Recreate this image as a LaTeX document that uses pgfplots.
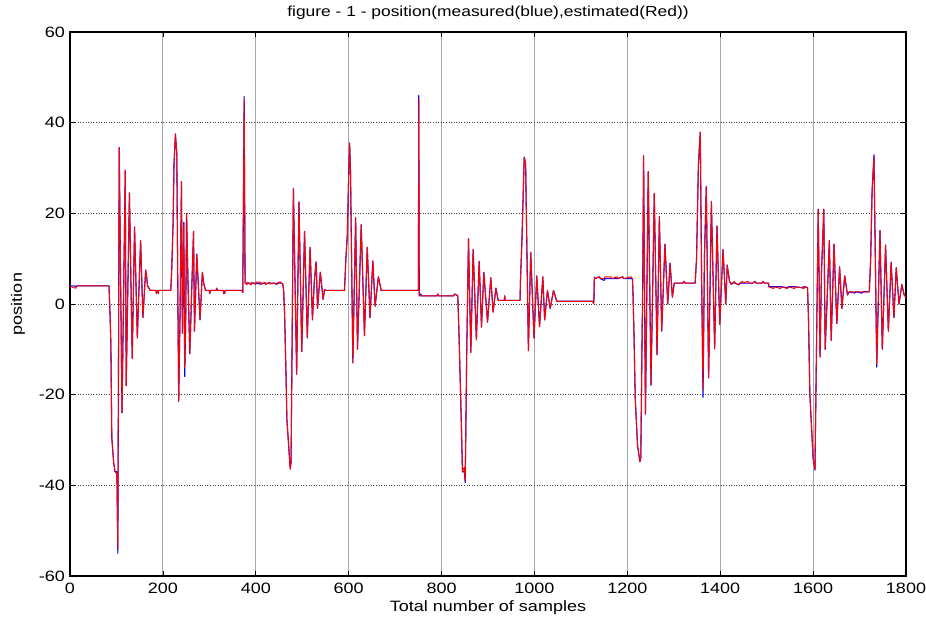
\documentclass[border=0pt]{standalone}
\usepackage{fontspec}
\setmainfont{Liberation Sans}[FakeStretch=1.2]
\usepackage{pgfplots}
\usepackage{pgfplotstable}
\pgfplotsset{compat=1.18}

\pgfplotstableread{
x meas est
0 4.0 4.0
8 4.0 3.6
13 3.9 3.5
15 4.0 4.0
84 4.0 4.0
86 -1.5 -1.5
88 -9 -8.5
90 -29.5 -29.5
94 -35 -35
97 -37 -37
101 -37 -37.5
103 -55 -54
106 34.5 34.5
112 -24 -24
119 29.5 29.5
121 -18 -18
128 24.5 24.5
134 -12 -12
139 17 17
145 -7.5 -7.5
152 14 14
157 -3 -3
163 7.5 7.5
165 6 6
167 4 4
170 3.5 3.5
173 3 3
185 3 3
186 2.3 2.3
187 3 3
190 3 2.3
191 3 3
217 3 3
219 7.5 7.5
222 18 18
224 31 31
227 37.5 37.5
230 33 33
232 5 5
234 -21.5 -21.5
237 -2 -2
240 27 27
242 -6.5 -6.5
245 18 18
247 -16 -14
249 -5 -5
251 20 20
254 5 5
258 -11 -11
262 3 3
266 16 16
268 -6 -6
273 11 11
280 -3.5 -3.5
285 7 7
288 4.5 4.5
292 3 3
300 3 3
301 2.3 2.3
302 3 3
315 3 3
316 3.5 3.5
317 3 3
330 3 3
331 2.3 2.3
333 2.3 2.3
334 3 3
370 3 3
372 2.5 2.5
375 45.8 45
377 4.6 4.6
381 4.6 4.2
382 4.6 4.8
390 4.6 4.2
391 4.6 4.8
400 4.6 4.3
401 4.6 4.8
410 4.4 4.8
411 4.6 4.3
420 4.6 4.8
421 4.6 4.3
430 4.6 4.8
431 4.6 4.4
440 4.6 4.6
445 4.3 4.3
446 4.6 4.6
452 4.6 4.9
455 4.6 4.6
458 4.5 4.5
460 3 3
462 -2 -2
465 -15 -15
467 -25.5 -25.5
470 -30 -30
474 -36 -36.5
476 -35 -35
481 25.5 25.5
488 -15.5 -15.5
493 22.5 22.5
499 -10.5 -10.5
505 16 16
511 -7.5 -7.5
517 12.5 12.5
522 -3.5 -3.5
526 5 5
530 9.3 9.3
533 -1 -1
539 7 7
545 1 1
548 3.2 3.2
550 3 3
591 3 3
594 10 10
597 15 15
600 28 28
602 35.5 35.5
604 29 29
609 -13 -13
615 19 19
619 -10 -10
627 17.5 17.5
634 -7 -7
640 12.5 12.5
646 -3 -3
652 9.5 9.5
657 -0.5 -0.5
664 6 6
670 3 3
750 3 3
751 46 45.3
752 1.8 1.8
755 2.2 1.8
757 1.8 1.8
790 1.8 1.8
792 2.2 2.2
793 1.8 1.8
826 1.8 1.8
828 2.2 2.2
832 2.0 2.0
835 1.8 1.8
837 -5 -5
839 -12 -12
843 -28 -28
845 -37 -37
849 -37 -36
851 -39.4 -39
854 -12 -12
858 14.4 14.4
863 -10.7 -10.7
868 12 12
875 -7.9 -7.9
881 9.4 9.4
886 -5.1 -5.1
891 7 7
899 -4 -4
906 5.8 5.8
911 -1.8 -1.8
917 3.5 3.5
922 0.8 0.8
935 0.8 0.8
936 1.8 1.8
937 0.8 0.8
969 0.8 0.8
970 5.4 5.4
973 13.8 13.8
976 25 25
978 32.4 32.4
981 31 31
987 -10.3 -10.3
992 11.4 11.4
999 -7.5 -7.5
1005 6.2 6.2
1011 -5 -5
1018 6 6
1022 -3.5 -3.5
1028 3 3
1034 -1 -1
1041 3 3
1048 0.6 0.6
1126 0.6 0.6
1127 0.1 0.1
1128 0.6 0.6
1129 5.9 5.9
1131 5.6 5.6
1140 6.0 6.0
1142 5.6 5.6
1150 5.2 5.6
1152 5.6 6.0
1165 5.6 6.0
1166 5.6 5.6
1178 5.6 6.0
1180 5.6 5.6
1190 6.0 6.0
1192 5.6 5.6
1208 5.6 6.0
1211 5.6 5.6
1212 3 3
1214 -5 -5
1217 -20.7 -20.7
1222 -31.2 -31.2
1227 -34.8 -34.8
1229 -34 -34
1232 -5 -5
1233 3.5 0
1235 32.7 32.7
1239 -24.3 -24.3
1245 29.2 29.2
1251 -17.9 -17.9
1258 24.4 24.4
1264 -11.2 -11.2
1269 19.3 19.3
1274 -6 -6
1281 13.2 13.2
1287 0 0
1292 9 9
1297 1.5 1.5
1301 4.6 4.6
1320 4.6 4.6
1322 5.0 5.0
1325 4.6 4.6
1346 4.6 4.6
1349 10 10
1353 30.7 30.7
1357 37.9 37.9
1360 5 5
1363 -20.6 -19
1366 10 11
1370 25.9 25.9
1375 -16.3 -16.3
1381 22.6 22.6
1388 -9.9 -9.9
1393 17.2 17.2
1399 -4.5 -4.5
1406 12 12
1412 0 0
1415 8.6 8.6
1420 5 5
1424 4.3 4.3
1426 4.6 4.6
1430 4.6 5.0
1433 4.6 4.6
1440 4.2 4.2
1442 4.6 4.6
1448 4.6 5.0
1450 4.6 4.6
1460 4.6 5.0
1462 4.6 4.6
1470 4.6 4.6
1475 5.0 5.0
1477 4.6 4.6
1490 4.6 4.6
1492 5.0 5.0
1495 4.6 4.6
1504 4.6 4.6
1505 3.8 3.8
1515 3.8 3.4
1517 3.8 3.8
1530 3.8 3.4
1532 3.8 3.8
1545 3.6 3.4
1547 3.8 3.8
1560 3.8 3.4
1562 3.8 3.8
1575 3.6 3.6
1580 3.8 3.4
1582 3.8 3.8
1588 3.6 3.6
1590 -3 -3
1593 -19.9 -19.9
1597 -28 -28
1600 -34 -34
1604 -36.6 -36.6
1611 20.9 20.9
1615 -11.7 -11.7
1618 7 7
1623 20.9 20.9
1626 -10 -10
1635 14 14
1639 -8 -8
1645 13.2 13.2
1651 -4.3 -4.3
1657 8.2 8.2
1662 -1 -1
1668 6.2 6.2
1674 2 2
1678 2.7 2.7
1690 2.4 2.7
1692 2.7 2.7
1705 2.4 2.7
1707 2.7 2.7
1721 2.7 2.7
1724 10.2 10.2
1727 25 25
1731 32.9 32.5
1737 -13.9 -13.2
1744 16.2 16.2
1749 -10 -10
1756 13 13
1762 -6 -6
1768 9.2 9.2
1774 -3 -3
1779 8 8
1785 0 0
1791 4.3 4.3
1796 2 2
1800 1.5 1.5
}\datatable

\begin{document}
\fontsize{15bp}{18bp}\selectfont
\begin{tikzpicture}
\useasboundingbox (-70bp,-45bp) rectangle (856bp,576bp);
\begin{axis}[
  scale only axis,
  width=836bp, height=544bp,
  xmin=0, xmax=1800, ymin=-60, ymax=60,
  xtick={0,200,...,1800},
  ytick={-60,-40,...,60},
  tick align=inside,
  major tick length=5bp,
  tick style={black, line width=0.6bp},
  axis line style={black, line width=1.4bp},
  /pgf/number format/assume math mode=true,
  /pgf/number format/set thousands separator={},
  ticklabel style={font=\fontsize{15bp}{18bp}\selectfont},
  xticklabel style={yshift=-2bp},
  label style={font=\fontsize{15bp}{18bp}\selectfont},
  title style={font=\fontsize{14.5bp}{17bp}\selectfont, at={(axis description cs:0.5,1.0235)}, anchor=center},
  title={figure - 1 - position(measured(blue),estimated(Red))},
  xlabel={Total number of samples},
  ylabel={position},
  xlabel style={at={(axis description cs:0.5,-0.0588)}, anchor=center},
  ylabel style={at={(axis description cs:-0.0622,0.5)}, anchor=center},
  xmajorgrids, ymajorgrids,
  x grid style={gray!70, line width=0.8bp},
  y grid style={black!75, line width=0.6bp, dotted},
]
\addplot[blue, line width=1.1bp, line join=round] table[x=x, y=meas] {\datatable};
\addplot[red, line width=1.0bp, line join=round] table[x=x, y=est] {\datatable};
\end{axis}
\end{tikzpicture}
\end{document}
